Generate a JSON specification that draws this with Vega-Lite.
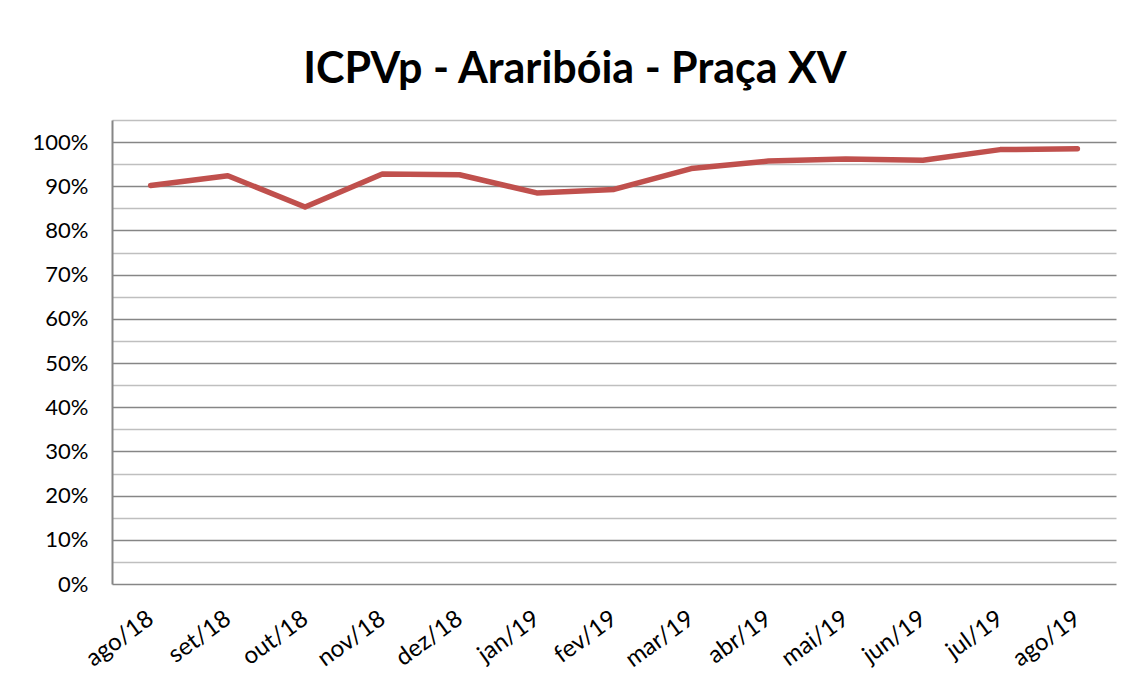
{
  "$schema": "https://vega.github.io/schema/vega-lite/v6.json",
  "autosize": {"type": "none"},
  "padding": {"left": 112, "top": 120, "right": 24, "bottom": 95},
  "width": 1004,
  "height": 464,
  "background": "white",
  "title": {
    "text": "ICPVp - Araribóia - Praça XV",
    "font": "Lato",
    "fontSize": 43,
    "fontWeight": "bold",
    "color": "#000000",
    "anchor": "middle",
    "dx": -39,
    "dy": 45,
    "baseline": "alphabetic",
    "offset": 39
  },
  "data": {
    "values": [
      {"mes": "ago/18", "valor": 0.902},
      {"mes": "set/18", "valor": 0.924},
      {"mes": "out/18", "valor": 0.853},
      {"mes": "nov/18", "valor": 0.928},
      {"mes": "dez/18", "valor": 0.926},
      {"mes": "jan/19", "valor": 0.885},
      {"mes": "fev/19", "valor": 0.893},
      {"mes": "mar/19", "valor": 0.94},
      {"mes": "abr/19", "valor": 0.957},
      {"mes": "mai/19", "valor": 0.962},
      {"mes": "jun/19", "valor": 0.959},
      {"mes": "jul/19", "valor": 0.983},
      {"mes": "ago/19", "valor": 0.985}
    ]
  },
  "mark": {"type": "line", "color": "#C0504D", "strokeWidth": 5.5, "strokeCap": "round", "strokeJoin": "round"},
  "encoding": {
    "x": {
      "field": "mes",
      "type": "ordinal",
      "sort": null,
      "scale": {"type": "point", "padding": 0.5},
      "axis": {
        "title": null,
        "labelAngle": -36,
        "labelAlign": "right",
        "labelBaseline": "middle",
        "labelFont": "Lato",
        "labelFontSize": 24,
        "labelColor": "#000000",
        "labelPadding": 32,
        "labelOffset": 0,
        "ticks": false,
        "domain": false,
        "grid": false
      }
    },
    "y": {
      "field": "valor",
      "type": "quantitative",
      "scale": {"domain": [0, 1.05], "nice": false, "zero": true},
      "axis": {
        "title": null,
        "values": [0, 0.05, 0.1, 0.15, 0.2, 0.25, 0.3, 0.35, 0.4, 0.45, 0.5, 0.55, 0.6, 0.65, 0.7, 0.75, 0.8, 0.85, 0.9, 0.95, 1.0, 1.05],
        "labelExpr": "round(datum.value*100) % 10 == 0 ? format(datum.value, '.0%') : ''",
        "labelFont": "Lato",
        "labelFontSize": 22,
        "labelColor": "#000000",
        "labelPadding": 24,
        "ticks": false,
        "domain": true,
        "domainColor": "#868686",
        "domainWidth": 2,
        "grid": true,
        "gridColor": {"condition": {"test": "round(datum.value*100) % 10 == 0", "value": "#868686"}, "value": "#BFBFBF"},
        "gridWidth": 1.6
      }
    }
  },
  "config": {
    "view": {"stroke": null}
  }
}
